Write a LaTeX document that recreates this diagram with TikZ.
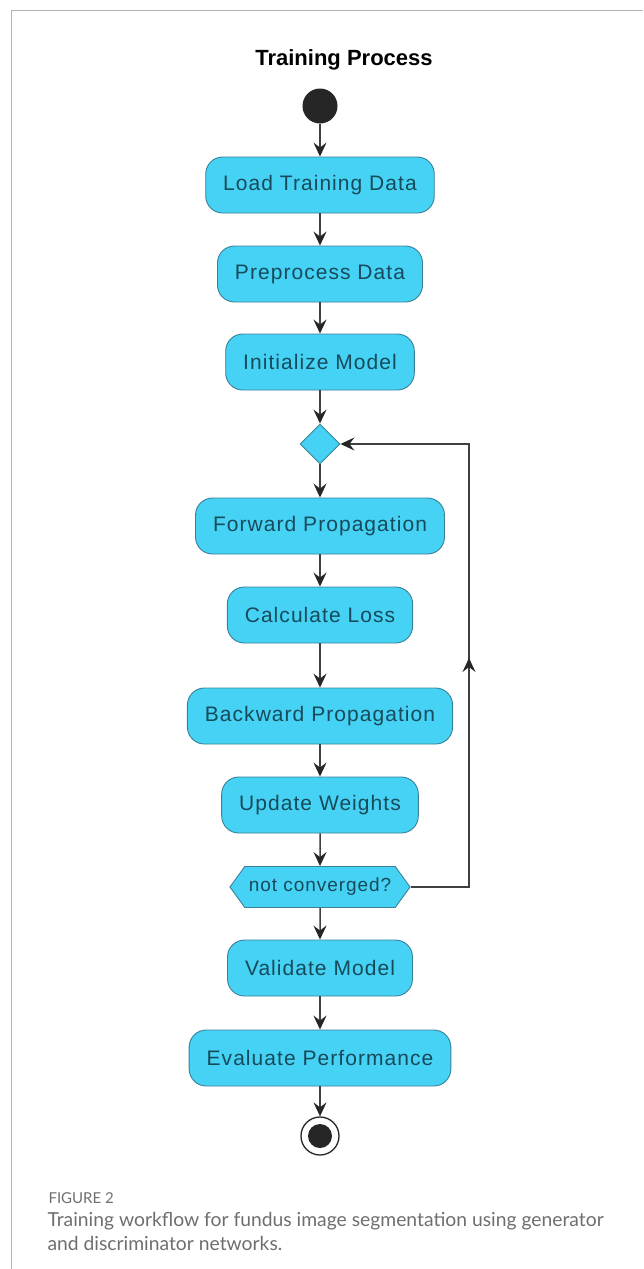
\documentclass[tikz,border=0pt]{standalone}
\usepackage{fontspec}
\setmainfont{Liberation Sans}
\newfontfamily\capfont{Lato}
\usetikzlibrary{arrows.meta,shapes.geometric,shapes.symbols}

\definecolor{actfill}{HTML}{45D2F5}
\definecolor{actline}{HTML}{3A8098}
\definecolor{acttext}{HTML}{174A5A}
\definecolor{flowline}{HTML}{404040}
\definecolor{capgray}{HTML}{6E6E6E}

\begin{document}
\begin{tikzpicture}[x=1pt,y=-1pt,
        action/.style={rectangle,rounded corners=17pt,draw=actline,fill=actfill,line width=0.9pt,
            minimum height=56pt,inner xsep=17.5pt,inner ysep=0pt,text=acttext,
            font=\fontsize{21}{25}\selectfont\addfontfeatures{LetterSpace=5}},
        split/.style={diamond,draw=actline,fill=actfill,line width=0.9pt,minimum size=40pt,inner sep=0pt},
        check/.style={signal,signal to=west and east,signal pointer angle=108,draw=actline,fill=actfill,
            line width=0.9pt,minimum height=41pt,inner xsep=4pt,inner ysep=0pt,text=acttext,
            font=\fontsize{19}{23}\selectfont\addfontfeatures{LetterSpace=5}},
        startstate/.style={circle,fill=black!85,minimum size=35pt,inner sep=0pt},
        endstate/.style={circle,draw=black!85,line width=1.3pt,fill=white,minimum size=38pt,inner sep=0pt,
            path picture={\fill[black!85] (path picture bounding box.center) circle (12pt);}},
        flow/.style={draw=flowline,line width=1.5pt,-{Stealth[length=14pt,width=13pt,inset=5pt,black!85]}}
    ]
    \useasboundingbox (0,0) rectangle (643,1269);
    \draw[gray!60,line width=1pt] (11,1269) -- (11,10) -- (643,10);

    \node[font=\bfseries\fontsize{22}{26}\selectfont] (title) at (344,60) {Training Process};

    \node[startstate] (start) at (320,106) {};
    \node[action] (load) at (320,185) {Load Training Data};
    \node[action] (prep) at (320,274) {Preprocess Data};
    \node[action] (init) at (320,362) {Initialize Model};
    \node[split] (merge) at (320,444) {};
    \node[action] (fwd) at (320,526) {Forward Propagation};
    \node[action] (loss) at (320,615) {Calculate Loss};
    \node[action] (bwd) at (320,716) {Backward Propagation};
    \node[action] (upd) at (320,805) {Update Weights};
    \node[check] (conv) at (320,887) {not converged?};
    \node[action] (valid) at (320,968) {Validate Model};
    \node[action] (eval) at (320,1058) {Evaluate Performance};
    \node[endstate] (stop) at (320,1136) {};

    \coordinate (loopbot) at (469,887);
    \coordinate (loopmid) at (469,658);
    \coordinate (looptop) at (469,444);

    \draw[flow] (start) -- (load);
    \draw[flow] (load) -- (prep);
    \draw[flow] (prep) -- (init);
    \draw[flow] (init) -- (merge);
    \draw[flow] (merge) -- (fwd);
    \draw[flow] (fwd) -- (loss);
    \draw[flow] (loss) -- (bwd);
    \draw[flow] (bwd) -- (upd);
    \draw[flow] (upd) -- (conv);
    \draw[flow] (conv) -- (valid);
    \draw[flow] (valid) -- (eval);
    \draw[flow] (eval) -- (stop);
    \draw[flow] (conv.east) -- (loopbot) -- (looptop) -- (merge.east);
    \draw[flow] (loopbot) -- (loopmid);

    \node[anchor=base west,font=\capfont\fontsize{15}{18}\selectfont,text=capgray] (figlabel) at (45,1203) {FIGURE 2};
    \node[anchor=base west,font=\capfont\fontsize{19.3}{23}\selectfont,text=capgray] (capline1) at (44,1226) {Training workflow for fundus image segmentation using generator};
    \node[anchor=base west,font=\capfont\fontsize{19.3}{23}\selectfont,text=capgray] (capline2) at (44,1250) {and discriminator networks.};
\end{tikzpicture}
\end{document}
